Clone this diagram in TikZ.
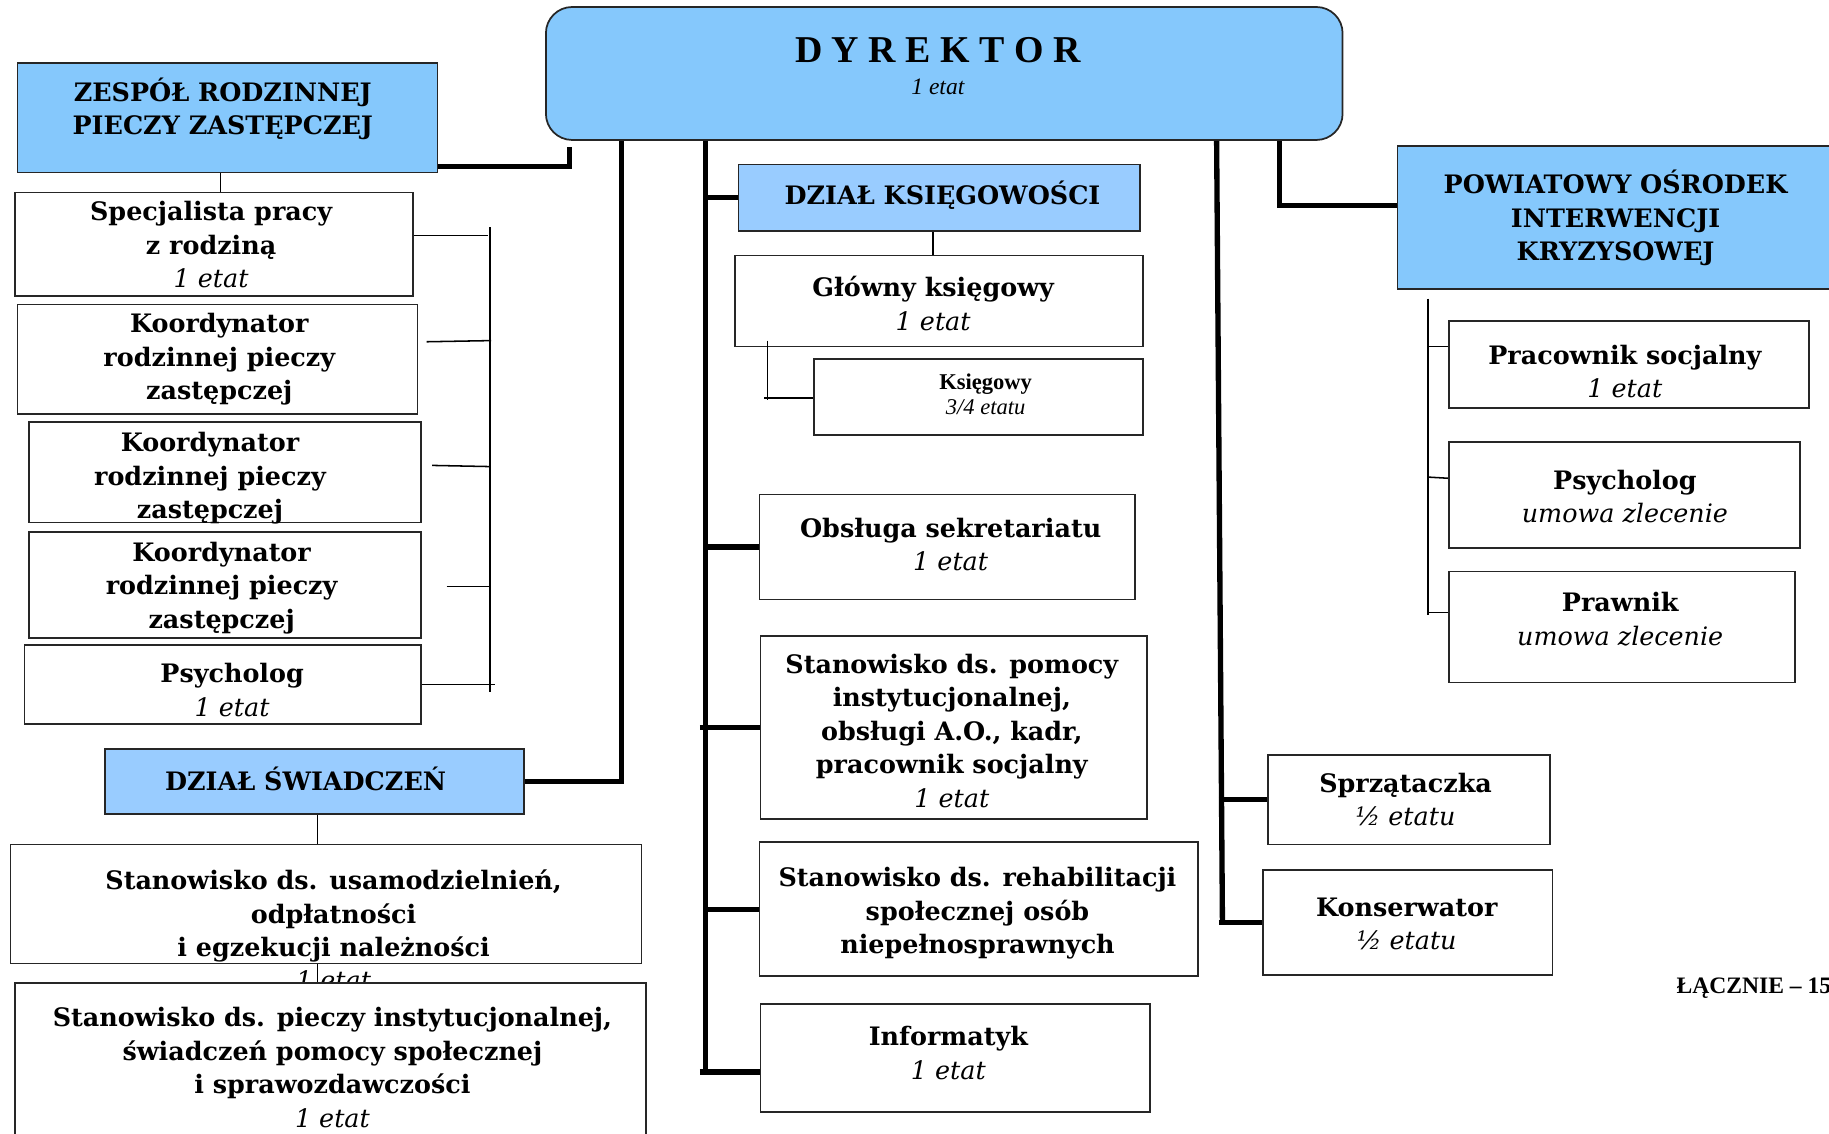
\documentclass[tikz,border=0pt]{standalone}
\usepackage{fontspec}
\setmainfont{DejaVu Serif}
\newfontfamily\timesfont{Liberation Serif}
\usepackage{tikz}
\usetikzlibrary{fit,positioning}
\definecolor{headblue}{RGB}{133,200,252}
\definecolor{deptblue}{RGB}{153,204,255}

\begin{document}
\begin{tikzpicture}[x=0.02cm, y=-0.02cm,
  box/.style={draw=black!85, line width=0.85pt, fill=white, inner sep=0pt},
  unitbox/.style={box, fill=headblue},
  deptbox/.style={box, fill=deptblue},
  txt/.style={align=center, anchor=north, inner sep=0pt, yshift=-0.13cm, font=\bfseries\fontsize{12.4}{16.3}\selectfont, execute at begin node=\strut},
  roman/.style={align=center, anchor=north, inner sep=0pt},
  trunk/.style={line width=2.6pt},
  twig/.style={line width=0.75pt}]
  \useasboundingbox (0,0) rectangle (1568,972);

  % director
  \node[unitbox, rounded corners=0.45cm, fit={(468,6) (1151,120)}] (dyr) {};
  \node[roman, font=\timesfont\bfseries\fontsize{18.5}{15.5}\selectfont] (dyr-t) at (804,32) {D Y R E K T O R\\{\fontsize{11.5}{15.5}\selectfont\mdseries\itshape 1 etat}};

  % foster care team
  \node[unitbox, fit={(15,54) (375,148)}] (zesp) {};
  \node[txt] (zesp-t) at (191,60) {ZESPÓŁ RODZINNEJ\\PIECZY ZASTĘPCZEJ};
  \node[box, fit={(13,165) (354,254)}] (spec) {};
  \node[txt] (spec-t) at (181,166) {Specjalista pracy\\z rodziną\\{\mdseries\itshape 1 etat}};
  \node[box, fit={(15,261) (358,355)}] (koord1) {};
  \node[txt] (koord1-t) at (188,262) {Koordynator\\rodzinnej pieczy\\zastępczej};
  \node[box, fit={(25,362) (361,448)}] (koord2) {};
  \node[txt] (koord2-t) at (180,364) {Koordynator\\rodzinnej pieczy\\zastępczej};
  \node[box, fit={(25,456) (361,547)}] (koord3) {};
  \node[txt] (koord3-t) at (190,458) {Koordynator\\rodzinnej pieczy\\zastępczej};
  \node[box, fit={(21,553) (361,621)}] (psych1) {};
  \node[txt] (psych1-t) at (199,562) {Psycholog\\{\mdseries\itshape 1 etat}};

  % benefits department
  \node[deptbox, fit={(90,642) (449,698)}] (swiad) {};
  \node[txt] (swiad-t) at (262,651) {DZIAŁ ŚWIADCZEŃ};
  \node[box, fit={(9,724) (550,826)}] (usam) {};
  \node[txt] (usam-t) at (286,739) {Stanowisko ds. usamodzielnień,\\odpłatności\\i egzekucji należności\\{\mdseries\itshape 1 etat}};
  \node[box, fit={(13,843) (554,990)}] (piecz) {};
  \node[txt] (piecz-t) at (285,857) {Stanowisko ds. pieczy instytucjonalnej,\\świadczeń pomocy społecznej\\i sprawozdawczości\\{\mdseries\itshape 1 etat}};

  % accounting and single posts
  \node[deptbox, fit={(633,141) (977,198)}] (ksieg) {};
  \node[txt] (ksieg-t) at (808,148) {DZIAŁ KSIĘGOWOŚCI};
  \node[box, fit={(630,219) (980,297)}] (glowny) {};
  \node[txt] (glowny-t) at (800,230) {Główny księgowy\\{\mdseries\itshape 1 etat}};
  \node[box, fit={(698,308) (980,373)}] (ksiegowy) {};
  \node[roman, font=\timesfont\bfseries\fontsize{11}{12.5}\selectfont] (ksiegowy-t) at (845,320) {Księgowy\\{\mdseries\itshape 3/4 etatu}};
  \node[box, fit={(651,424) (973,514)}] (sekr) {};
  \node[txt] (sekr-t) at (815,437) {Obsługa sekretariatu\\{\mdseries\itshape 1 etat}};
  \node[box, fit={(652,545) (983,702)}] (pomoc) {};
  \node[txt] (pomoc-t) at (816,554) {Stanowisko ds. pomocy\\instytucjonalnej,\\obsługi A.O., kadr,\\pracownik socjalny\\{\mdseries\itshape 1 etat}};
  \node[box, fit={(651,722) (1027,837)}] (rehab) {};
  \node[txt] (rehab-t) at (838,737) {Stanowisko ds. rehabilitacji\\społecznej osób\\niepełnosprawnych};
  \node[box, fit={(652,861) (986,953)}] (inform) {};
  \node[txt] (inform-t) at (813,873) {Informatyk\\{\mdseries\itshape 1 etat}};
  \node[box, fit={(1087,647) (1329,724)}] (sprz) {};
  \node[txt] (sprz-t) at (1205,656) {Sprzątaczka\\{\mdseries\itshape ½ etatu}};
  \node[box, fit={(1083,746) (1331,836)}] (kons) {};
  \node[txt] (kons-t) at (1206,763) {Konserwator\\{\mdseries\itshape ½ etatu}};

  % crisis centre
  \node[unitbox, fit={(1198,125) (1590,248)}] (poik) {};
  \node[txt] (poik-t) at (1385,139) {POWIATOWY OŚRODEK\\INTERWENCJI\\KRYZYSOWEJ};
  \node[box, fit={(1242,275) (1551,350)}] (pracsoc) {};
  \node[txt] (pracsoc-t) at (1393,289) {Pracownik socjalny\\{\mdseries\itshape 1 etat}};
  \node[box, fit={(1242,379) (1543,470)}] (psych2) {};
  \node[txt] (psych2-t) at (1393,396) {Psycholog\\{\mdseries\itshape umowa zlecenie}};
  \node[box, fit={(1242,490) (1539,585)}] (prawnik) {};
  \node[txt] (prawnik-t) at (1389,501) {Prawnik\\{\mdseries\itshape umowa zlecenie}};

  \node[anchor=base west, inner sep=0pt, font=\timesfont\bfseries\fontsize{11.5}{13}\selectfont] (razem) at (1437,852) {ŁĄCZNIE – 15};

  % thick lines from the director
  \draw[trunk] (zesp.east |- 0,143) -| (488,126);
  \draw[trunk] (swiad.east) -| (dyr.south -| 533,0);
  \draw[trunk] (dyr.south -| 605,0) -- (605,922);
  \draw[trunk] (ksieg.west -| 605,0) -- (ksieg.west);
  \draw[trunk] (sekr.west -| 605,0) -- (sekr.west);
  \draw[trunk] (pomoc.west -| 600,0) -- (pomoc.west);
  \draw[trunk] (rehab.west -| 607,0) -- (rehab.west);
  \draw[trunk] (600,919) -- (inform.west |- 0,919);
  \draw[trunk] (dyr.south -| 1043,0) -- (1048,792);
  \draw[trunk] (sprz.west -| 1045,0) -- (sprz.west);
  \draw[trunk] (kons.west -| 1045,0) -- (kons.west);
  \draw[trunk] (dyr.south -| 1097,0) |- (poik.west |- 0,176);

  % thin lines inside the units
  \draw[twig] (zesp.south -| 189,0) -- (spec.north -| 189,0);
  \draw[twig] (420,195) -- (420,593);
  \draw[twig] (spec.east |- 0,202) -- (418,202);
  \draw[twig] ([xshift=4]koord1.east |- 0,293) -- (421,292);
  \draw[twig] ([xshift=5]koord2.east |- 0,399) -- (420,400);
  \draw[twig] ([xshift=12]koord3.east |- 0,503) -- (420,503);
  \draw[twig] (psych1.east |- 0,587) -- (424,587);
  \draw[twig] (swiad.south -| 272,0) -- (usam.north -| 272,0);
  \draw[twig] (usam.south -| 272,0) -- (piecz.north -| 272,0);
  \draw[twig] (ksieg.south -| 800,0) -- (glowny.north -| 800,0);
  \draw[twig] (658,292) -- (658,343);
  \draw[twig] (655,341) -- (ksiegowy.west |- 0,341);
  \draw[twig] (1224,256) -- (1224,527);
  \draw[twig] (1224,297) -- (pracsoc.west |- 0,297);
  \draw[twig] (1224,409) -- (psych2.west |- 0,410);
  \draw[twig] (1224,525) -- (prawnik.west |- 0,525);
\end{tikzpicture}
\end{document}
